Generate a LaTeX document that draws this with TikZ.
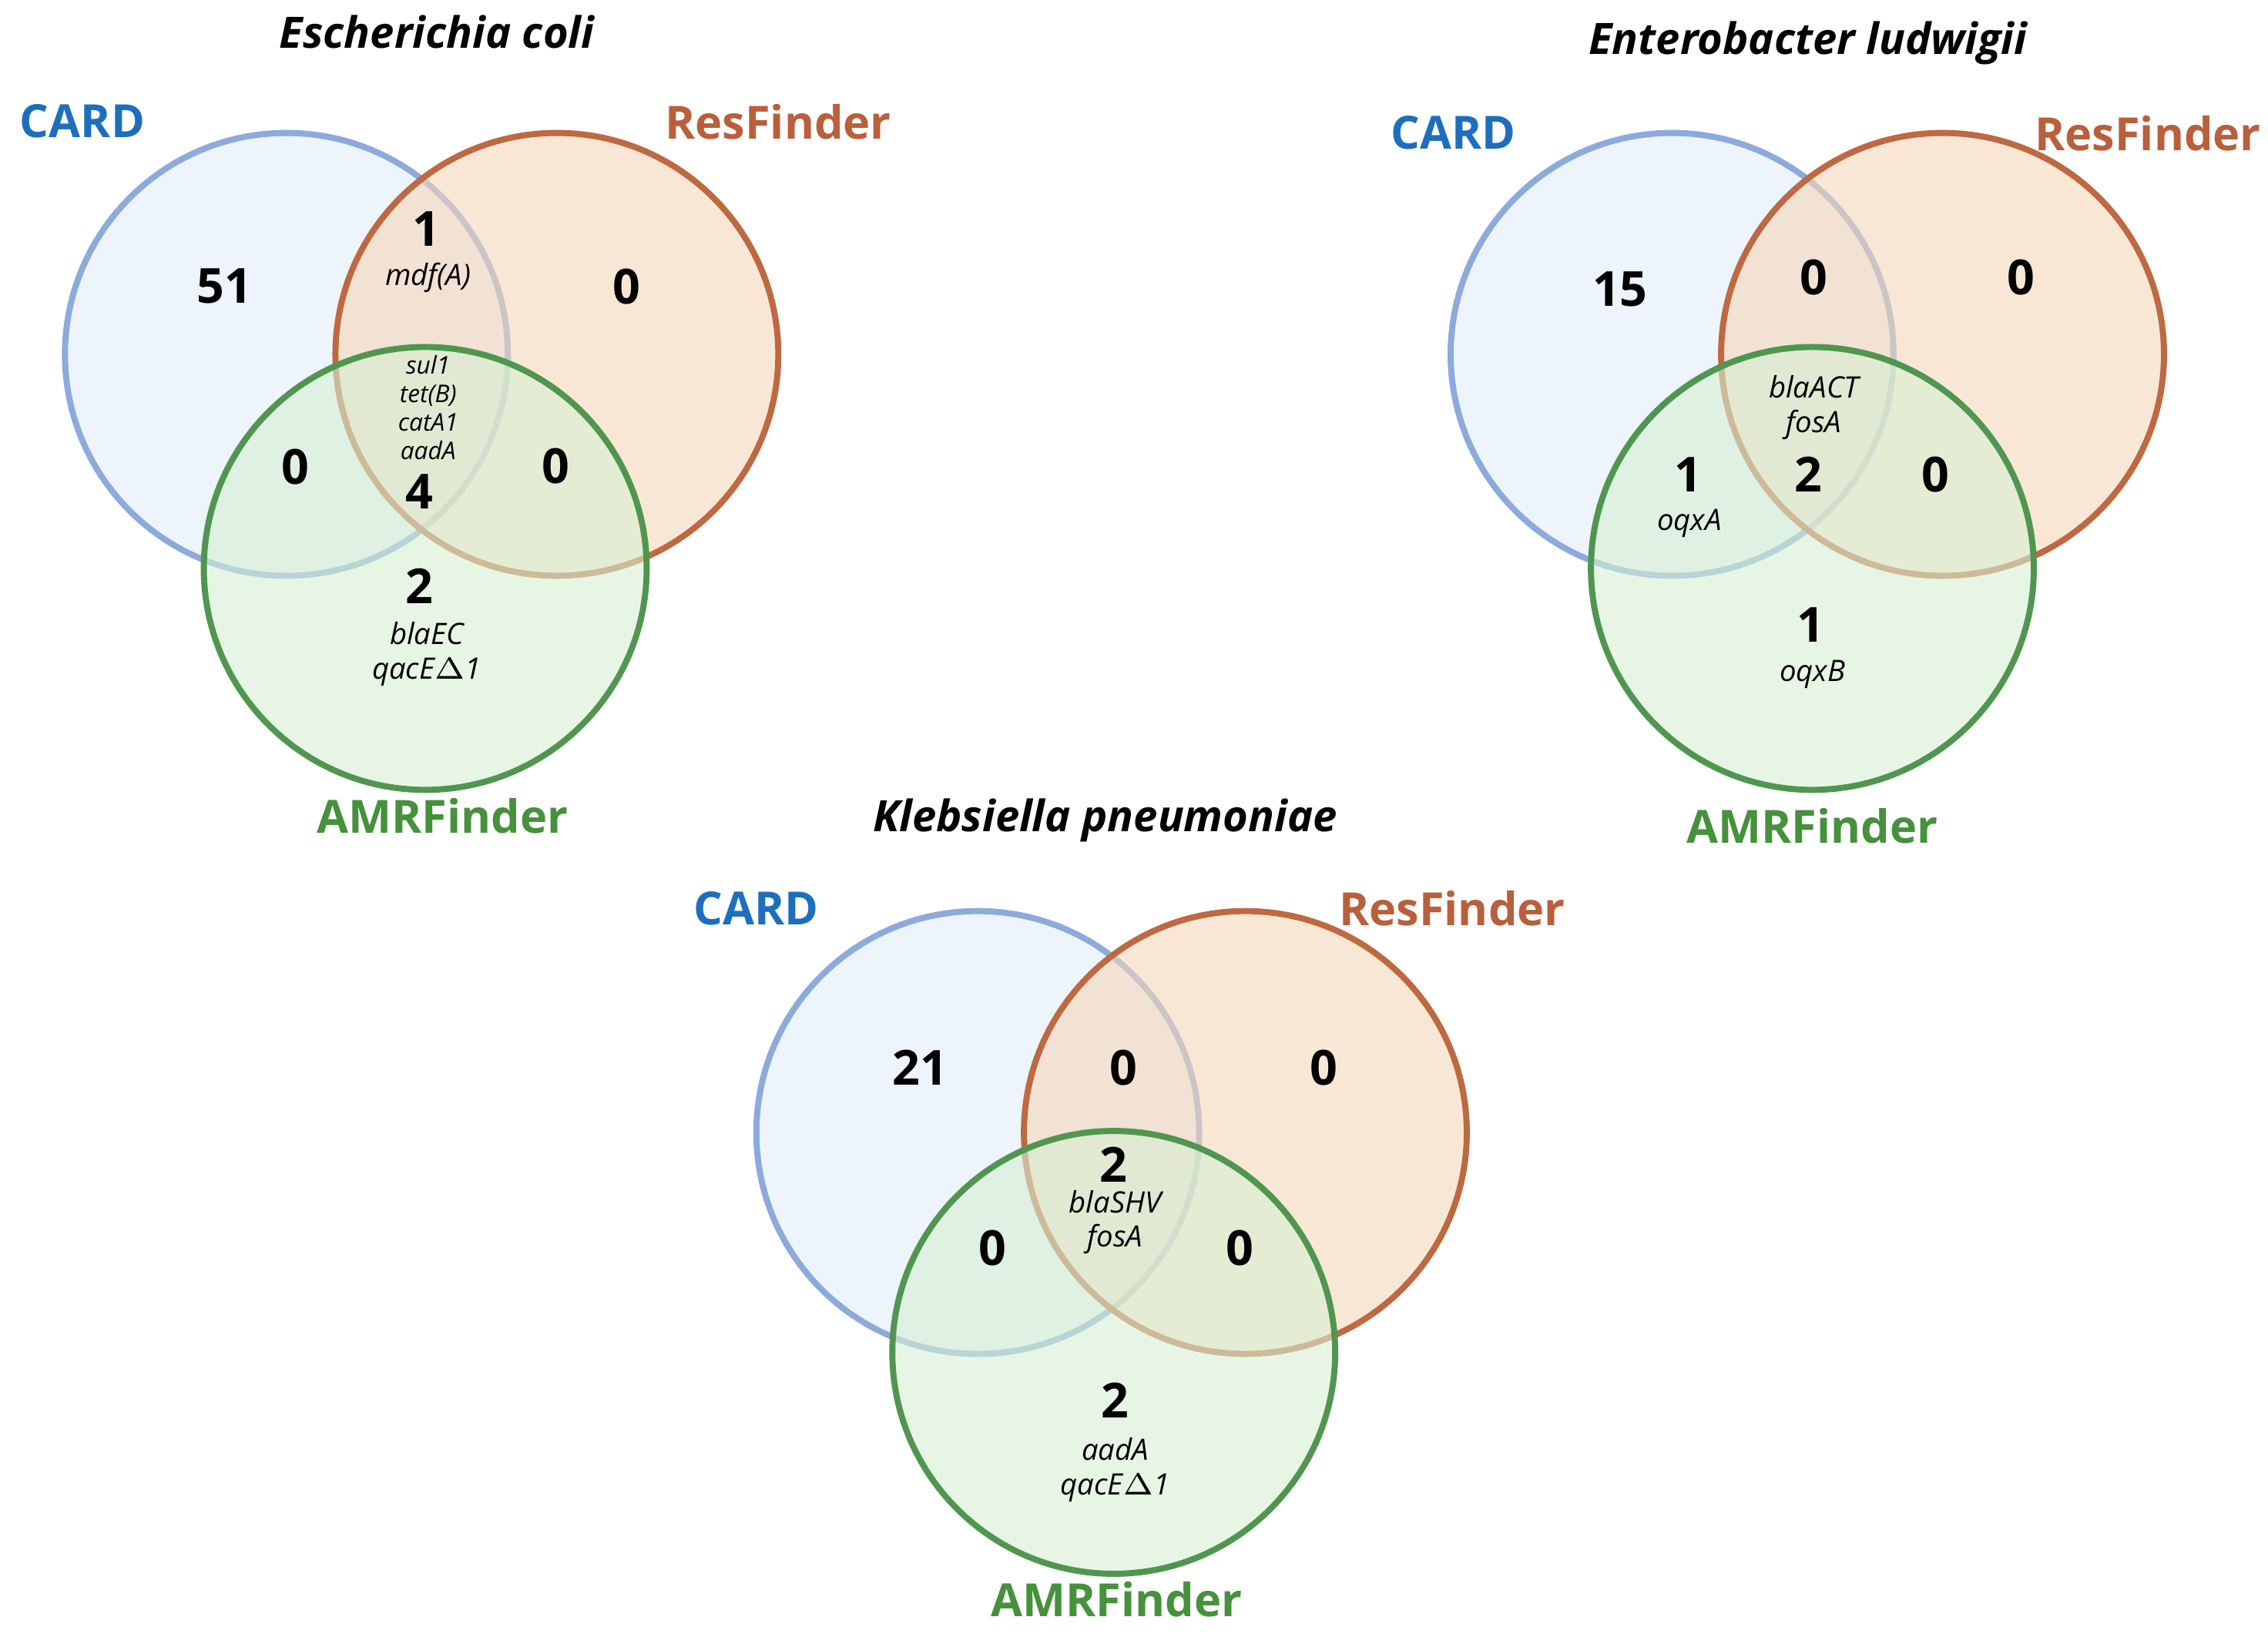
\documentclass[tikz,border=0pt]{standalone}
\usepackage{fontspec}
\setmainfont{Open Sans}
\usetikzlibrary{positioning,calc}
\definecolor{cardLine}{RGB}{140,170,220}
\definecolor{cardFill}{RGB}{225,236,250}
\definecolor{resLine}{RGB}{190,105,65}
\definecolor{resFill}{RGB}{245,215,185}
\definecolor{amrLine}{RGB}{80,150,80}
\definecolor{amrFill}{RGB}{215,240,210}
\definecolor{cardText}{RGB}{30,110,190}
\definecolor{resText}{RGB}{185,95,60}
\definecolor{amrText}{RGB}{70,145,60}
\tikzset{
  setCircle/.style={circle,minimum size=3.06cm,inner sep=0pt,line width=1.2pt,fill opacity=0.6},
  cardSet/.style={setCircle,draw=cardLine,fill=cardFill},
  resSet/.style={setCircle,draw=resLine,fill=resFill},
  amrSet/.style={setCircle,draw=amrLine,fill=amrFill},
  setLabel/.style={font=\fontsize{9}{10}\selectfont\bfseries},
  titleLabel/.style={font=\fontsize{8.5}{10}\selectfont\bfseries\itshape},
  countLabel/.style={font=\fontsize{9.5}{11}\selectfont\bfseries},
  geneLabel/.style={font=\fontsize{5.8}{6.8}\selectfont\itshape,align=center},
  smallGene/.style={font=\fontsize{4.8}{5.6}\selectfont\itshape,align=center},
}
\begin{document}
\begin{tikzpicture}[x=0.01cm,y=-0.01cm]
\useasboundingbox (0,0) rectangle (1568,1131.8);

% ===== Escherichia coli =====
\node[cardSet] (ecCard) at (198,245) {};
\node[resSet] (ecRes) at (385,245) {};
\node[amrSet] (ecAmr) at (294,393) {};
\node[titleLabel] (ecTitle) at (302,22) {Escherichia coli};
\node[setLabel,text=cardText] (ecCardL) at (57,84) {CARD};
\node[setLabel,text=resText] (ecResL) at (538,84) {ResFinder};
\node[setLabel,text=amrText] (ecAmrL) at (306,564) {AMRFinder};
\node[countLabel] (ec1) at (155,198) {51};
\node[countLabel] (ec2) at (295,158) {1};
\node[geneLabel] (ec2g) at (296,192) {mdf(A)};
\node[countLabel] (ec3) at (433,198) {0};
\node[smallGene] (ec4g) at (296,282) {sul1\\tet(B)\\catA1\\aadA};
\node[countLabel] (ec4) at (290,340) {4};
\node[countLabel] (ec5) at (204,323) {0};
\node[countLabel] (ec6) at (384,322) {0};
\node[countLabel] (ec7) at (290,405) {2};
\node[geneLabel] (ec7g) at (295,452) {blaEC\\qacE$\Delta$1};

% ===== Enterobacter ludwigii =====
\node[cardSet] (elCard) at (1156,245) {};
\node[resSet] (elRes) at (1343,245) {};
\node[amrSet] (elAmr) at (1253,393) {};
\node[titleLabel] (elTitle) at (1250,30) {Enterobacter ludwigii};
\node[setLabel,text=cardText] (elCardL) at (1005,92) {CARD};
\node[setLabel,text=resText] (elResL) at (1485,92) {ResFinder};
\node[setLabel,text=amrText] (elAmrL) at (1253,571) {AMRFinder};
\node[countLabel] (el1) at (1120,200) {15};
\node[countLabel] (el2) at (1254,192) {0};
\node[countLabel] (el3) at (1397,192) {0};
\node[geneLabel] (el4g) at (1254,282) {blaACT\\fosA};
\node[countLabel] (el4) at (1250,328) {2};
\node[countLabel] (el5) at (1167,328) {1};
\node[geneLabel] (el5g) at (1168,362) {oqxA};
\node[countLabel] (el6) at (1338,328) {0};
\node[countLabel] (el7) at (1252,432) {1};
\node[geneLabel] (el7g) at (1253,466) {oqxB};

% ===== Klebsiella pneumoniae =====
\node[cardSet] (kpCard) at (676,783) {};
\node[resSet] (kpRes) at (861,783) {};
\node[amrSet] (kpAmr) at (770,935) {};
\node[titleLabel] (kpTitle) at (764,567) {Klebsiella pneumoniae};
\node[setLabel,text=cardText] (kpCardL) at (523,628) {CARD};
\node[setLabel,text=resText] (kpResL) at (1004,628) {ResFinder};
\node[setLabel,text=amrText] (kpAmrL) at (772,1106) {AMRFinder};
\node[countLabel] (kp1) at (636,738) {21};
\node[countLabel] (kp2) at (777,738) {0};
\node[countLabel] (kp3) at (915,738) {0};
\node[countLabel] (kp4) at (770,805) {2};
\node[geneLabel] (kp4g) at (771,845) {blaSHV\\fosA};
\node[countLabel] (kp5) at (686,863) {0};
\node[countLabel] (kp6) at (857,863) {0};
\node[countLabel] (kp7) at (771,968) {2};
\node[geneLabel] (kp7g) at (771,1016) {aadA\\qacE$\Delta$1};

\end{tikzpicture}
\end{document}
